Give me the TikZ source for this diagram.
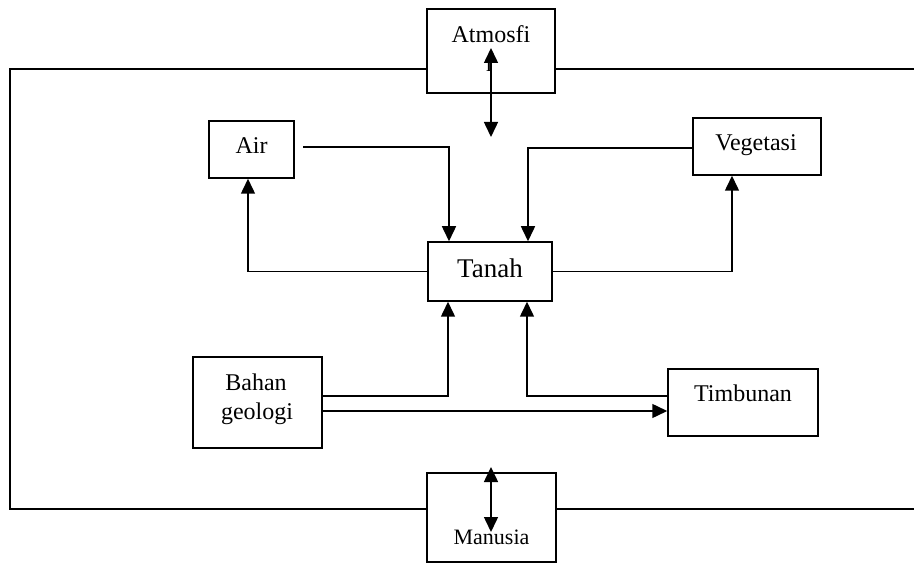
\documentclass[tikz,border=0pt]{standalone}
\usepackage{fontspec}
\setmainfont{Liberation Serif}
\usetikzlibrary{arrows.meta}
\tikzset{
  box/.style={draw, line width=1.5pt, inner sep=0pt, rectangle},
  lbl/.style={anchor=base, inner sep=0pt, font=\fontsize{24}{29}\selectfont},
  conn/.style={line width=1.5pt},
  arr/.style={line width=1.5pt, -{Triangle[width=14pt,length=15pt]}},
  darr/.style={line width=1.5pt, {Triangle[width=14pt,length=15pt]}-{Triangle[width=14pt,length=15pt]}},
  frame/.style={line width=1.6pt}
}
\begin{document}
\begin{tikzpicture}[x=1pt,y=-1pt]
\useasboundingbox (0,0) rectangle (914,564);
% boxes
\node[box, minimum width=128pt, minimum height=84pt] (atm) at (491,51) {};
\node[box, minimum width=85pt, minimum height=57pt] (air) at (251.5,149.5) {};
\node[box, minimum width=128pt, minimum height=57pt] (veg) at (757,146.5) {};
\node[box, minimum width=124pt, minimum height=59pt] (tan) at (490,271.5) {};
\node[box, minimum width=129pt, minimum height=91pt] (bah) at (257.5,402.5) {};
\node[box, minimum width=150pt, minimum height=67pt] (tim) at (743,402.5) {};
\node[box, minimum width=129pt, minimum height=89pt] (man) at (491.5,517.5) {};
% texts
\node[lbl] (atmt) at (491,43) {Atmosfi};
\node[lbl] (atmr) at (490,72) {r};
\node[lbl] (airt) at (251.5,154) {Air};
\node[lbl] (vegt) at (756,151) {Vegetasi};
\node[lbl, font=\fontsize{27}{32}\selectfont] (tant) at (490,278) {Tanah};
\node[lbl] (baht1) at (256,390) {Bahan};
\node[lbl] (baht2) at (257,420) {geologi};
\node[lbl] (timt) at (743,401) {Timbunan};
\node[lbl, font=\fontsize{22}{26}\selectfont] (mant) at (491.5,544) {Manusia};
% frame
\coordinate (fl1) at (10,69);
\coordinate (fl2) at (10,509);
\coordinate (fr1) at (914,69);
\coordinate (fr2) at (914,509);
\draw[frame] (atm.west |- fl1) -- (fl1) -- (fl2) -- (man.west |- fl2);
\draw[frame] (atm.east |- fr1) -- (fr1);
\draw[frame] (man.east |- fr2) -- (fr2);
% vertical double arrows
\coordinate (a1) at (491,48);
\coordinate (a2) at (491,137);
\draw[darr] (a1) -- (a2);
\coordinate (m1) at (491,467);
\coordinate (m2) at (491,532);
\draw[darr] (m1) -- (m2);
% Air -> Tanah
\coordinate (airs) at (303,147);
\draw[arr] (airs) -- (449,147) -- (tan.north -| 449,0);
% Tanah -> Air
\draw[arr] (tan.west) -- (248,271.5) -- (air.south -| 248,0);
% Vegetasi -> Tanah
\draw[arr] (veg.west |- 0,148) -- (528,148) -- (tan.north -| 528,0);
% Tanah -> Vegetasi
\draw[arr] (tan.east) -- (732,271.5) -- (veg.south -| 732,0);
% Bahan -> Tanah
\draw[arr] (bah.east |- 0,396) -- (448,396) -- (tan.south -| 448,0);
% Timbunan -> Tanah
\draw[arr] (tim.west |- 0,396) -- (527,396) -- (tan.south -| 527,0);
% Bahan -> Timbunan
\draw[arr] (bah.east |- 0,411) -- (tim.west |- 0,411);
\end{tikzpicture}
\end{document}
